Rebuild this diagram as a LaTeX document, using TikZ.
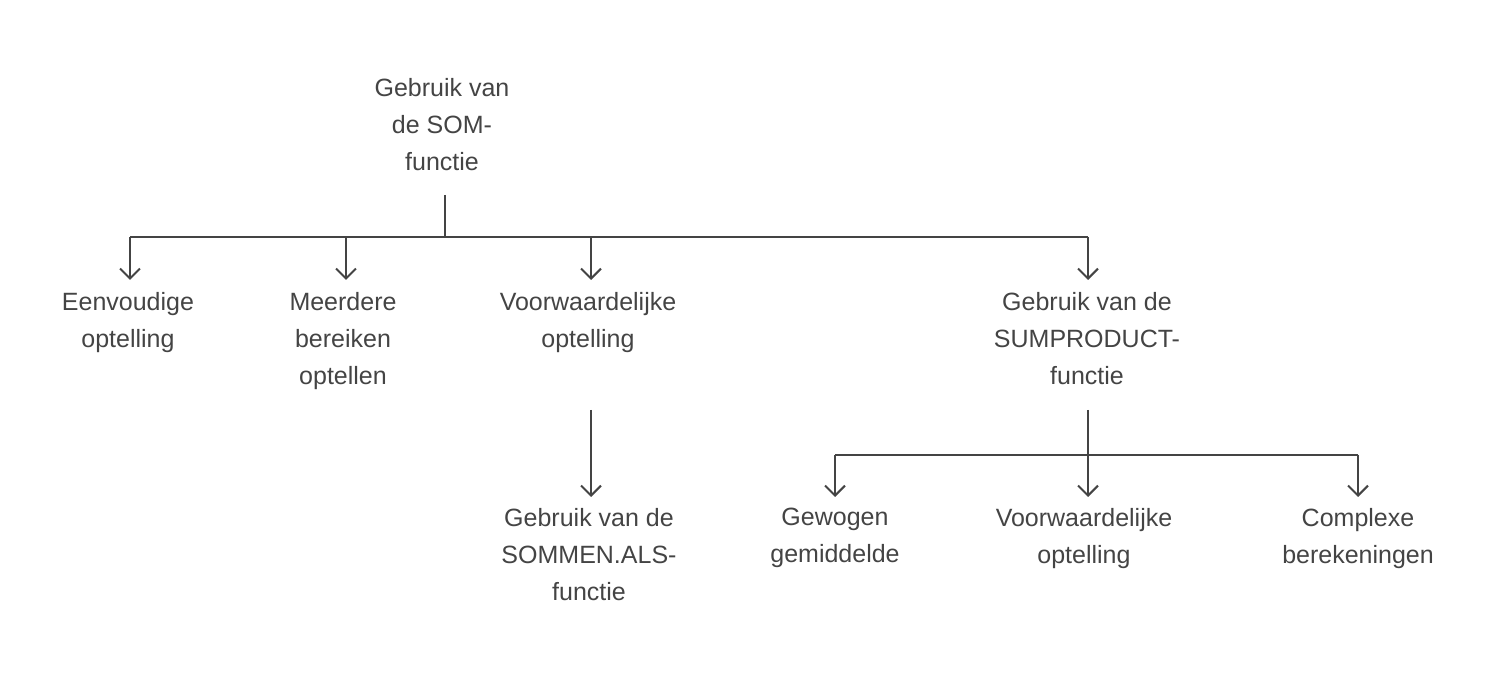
\documentclass[tikz,border=0pt]{standalone}
\usepackage{fontspec}
\setmainfont{Liberation Sans}
\usetikzlibrary{arrows.meta}
\definecolor{ink}{HTML}{444444}
\begin{document}
\begin{tikzpicture}[x=0.5pt,y=-0.5pt,
  lbl/.style={align=center,font=\fontsize{12.5pt}{18.5pt}\selectfont,text=ink,inner sep=0pt,anchor=north},
  conn/.style={draw=ink,line width=1pt},
  arr/.style={conn,-{Straight Barb[length=5pt,width=10pt]}}]
\useasboundingbox (0,0) rectangle (1500,694);
\node[lbl] (root) at (442,78) {Gebruik van\\de SOM-\\functie};
\node[lbl] (a) at (128,292) {Eenvoudige\\optelling};
\node[lbl] (b) at (343,292) {Meerdere\\bereiken\\optellen};
\node[lbl] (c) at (588,292) {Voorwaardelijke\\optelling};
\node[lbl] (d) at (1087,292) {Gebruik van de\\SUMPRODUCT-\\functie};
\node[lbl] (e) at (589,508) {Gebruik van de\\SOMMEN.ALS-\\functie};
\node[lbl] (f) at (835,508) {Gewogen\\gemiddelde};
\node[lbl] (g) at (1084,508) {Voorwaardelijke\\optelling};
\node[lbl] (h) at (1358,508) {Complexe\\berekeningen};
\coordinate (rj) at (445,237);
\draw[conn] (445,195) -- (rj);
\draw[conn] (130,237) -- (1088,237);
\foreach \x in {130,346,591,1088} \draw[arr] (\x,237) -- (\x,280);
\draw[arr] (591,410) -- (591,497);
\draw[conn] (1088,410) -- (1088,455);
\draw[conn] (835,455) -- (1358,455);
\foreach \x in {835,1088,1358} \draw[arr] (\x,455) -- (\x,497);
\end{tikzpicture}
\end{document}
